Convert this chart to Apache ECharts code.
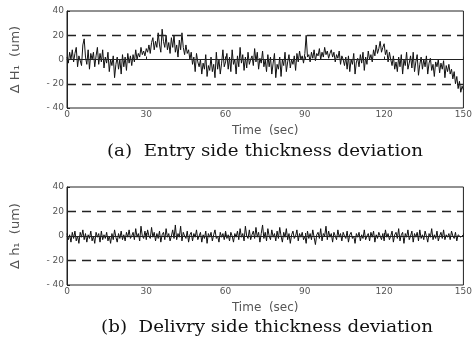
<!DOCTYPE html>
<html>
<head>
<meta charset="utf-8">
<script src="https://cdn.jsdelivr.net/npm/echarts@6/dist/echarts.min.js"></script>
<style>html,body{margin:0;padding:0;background:#fff}#c{width:475px;height:350px}</style>
</head>
<body>
<div id="c"></div>
<script>
// sample spacing (seconds)
const timeStep = 0.5;
const xTicks = [0, 30, 60, 90, 120, 150];
const yTicks = [-40, -20, 0, 20, 40];
const limitLines = [-20, 20];

// (a) Entry side thickness deviation, ΔH1 (um), every 0.5 s
const entryDev = [
  2, -3, 6, 0, 8, -2, 5, 10, -6, 3,
  4, -5, 12, 17, 2, -4, 8, -8, 5, 0,
  6, -6, 3, 10, -4, 5, -2, 8, -7, 2,
  -3, 6, -10, 0, -5, 3, -15, -4, 2, -8,
  0, -12, 4, -6, 2, -9, 5, -3, 3, -5,
  4, -2, 8, 0, 5, 2, 10, 4, 7, 3,
  9, 6, 12, 5, 14, 18, 8, 15, 10, 22,
  12, 6, 25, 15, 10, 20, 8, 14, 5, 18,
  10, 20, 6, 12, 2, 16, 8, 22, 10, 4,
  12, 5, 8, 0, 6, -4, 2, -10, 5, -2,
  -6, 0, -12, -3, -8, 4, -14, -5, -9, 2,
  -10, -4, -15, 6, -8, 0, -12, -3, 8, -6,
  -2, 5, -8, 2, -10, 8, -4, 0, -12, 3,
  -6, 10, -3, 4, -9, 2, -7, 6, -4, 0,
  3, -5, 9, -2, 6, -8, 1, -3, 7, -6,
  0, -10, 4, -6, 2, -12, -3, 5, -15, -4,
  -8, 2, -14, 0, -5, 6, -10, -2, 4, -7,
  0, -4, 3, -9, 5, -2, 7, 0, 3, -3,
  5, 20, 2, 4, -2, 6, 1, 8, -1, 5,
  3, 9, 0, 6, 2, 10, 4, 7, 1, 5,
  8, 2, 6, -2, 4, 1, 7, -4, 3, 0,
  -5, 2, -8, 3, -10, 0, -4, 5, -12, -2,
  1, -6, 4, -3, 6, -9, 2, -4, 7, 0,
  4, -2, 8, 3, 12, 5, 9, 15, 6, 10,
  13, 4, 8, -2, 6, 0, -5, 3, -8, -2,
  -10, 2, -6, 4, -12, 0, -5, 6, -8, -3,
  3, -7, 6, -10, -2, 4, -13, -4, 2, -8,
  0, -6, 3, -12, -3, 1, -9, -4, -14, -2,
  -6, 0, -11, -3, -8, -1, -15, -5, -10, -4,
  -12, -8, -16, -10, -20, -14, -24, -18, -27, -22, -25
];

// (b) Delivery side thickness deviation, Δh1 (um), every 0.5 s
const deliveryDev = [
  2, -3, 1, -5, 3, -2, 4, -4, 0, -6,
  3, -1, 5, -3, 2, -5, 1, -2, 4, -4,
  0, -6, 3, -1, 2, -5, 4, -3, 1, -2,
  3, -4, 0, -6, 2, -3, 5, -1, -5, 2,
  -2, 4, -3, 1, -4, 3, -1, 5, -2, 0,
  3, -3, 6, -1, 2, -4, 8, 0, -2, 4,
  -3, 5, 0, -2, 7, -1, 3, -4, 2, -2,
  4, -5, 1, 3, -3, 6, -1, 2, -4, 0,
  5, -2, 9, -3, 2, -1, 8, -4, 3, 0,
  -2, 4, -5, 1, 3, -4, 2, -1, 5, -3,
  0, 3, -5, 1, -2, 4, -6, 2, -1, 3,
  -4, 1, 5, -2, 0, -5, 3, -1, 2, -3,
  4, -2, 1, -4, 3, 0, -5, 2, -1, 4,
  -3, 6, -1, 2, -4, 8, 0, -2, 5, -3,
  1, 4, -2, 7, -1, 3, -5, 2, 9, -2,
  3, -4, 6, 0, -3, 5, -1, 2, -4, 4,
  -2, 7, 0, -5, 3, -1, 6, -3, 2, -6,
  1, 4, -2, 0, 5, -4, 2, -1, 3, -3,
  0, -6, 4, -2, 2, -3, 5, -1, -7, 1,
  3, -2, 6, -4, 2, 0, 8, -3, 4, -1,
  2, -5, 3, 0, -3, 5, -1, 2, -4, 3,
  0, -2, 4, -5, 1, 3, -2, 0, -6, 2,
  -1, 3, -4, 1, -2, 5, -3, 0, 2, -4,
  3, -1, 4, -5, 1, -2, 3, 0, -3, 2,
  -4, 5, -1, 2, -3, 0, 4, -5, 1, 3,
  -2, 6, -4, 1, 3, -6, 2, -1, 5, -3,
  0, 4, -5, 2, -1, 3, -4, 5, -2, 1,
  -3, 4, 0, -5, 2, -1, 6, -3, 1, -2,
  4, -4, 0, 3, -2, 5, -3, 1, -1, 2,
  -3, 4, 0, -2, 3, -4, 1, 2, -1, 0, 1
];

const yNames = ['\u0394 H\u2081  (um)', '\u0394 h\u2081  (um)'];
const xName = 'Time  (sec)';
const captions = ['(a)  Entry side thickness deviation', '(b)  Delivry side thickness deviation'];

const pairs = arr => arr.map((v, i) => [i * timeStep, v]);
const ink = '#222';
const grey = '#555';
const sans = 'DejaVu Sans';

function xAxis(gi) {
  return {
    type: 'value', gridIndex: gi, min: 0, max: 150, interval: 30,
    name: xName, nameLocation: 'middle', nameGap: 17,
    nameTextStyle: { color: grey, fontSize: 12, fontFamily: sans },
    axisLine: { show: true, lineStyle: { color: ink, width: 1 } },
    axisTick: { show: true, inside: true, length: 3, lineStyle: { color: ink } },
    axisLabel: { color: grey, fontSize: 9, fontFamily: sans, margin: 2 },
    splitLine: { show: false }
  };
}
function yAxis(gi) {
  return {
    type: 'value', gridIndex: gi, min: -40, max: 40, interval: 20,
    name: yNames[gi], nameLocation: 'middle', nameGap: 45, nameRotate: 90,
    nameTextStyle: { color: grey, fontSize: 13, fontFamily: sans },
    axisLine: { show: true, lineStyle: { color: ink, width: 1 } },
    axisTick: { show: true, inside: true, length: 3, lineStyle: { color: ink } },
    axisLabel: { color: grey, fontSize: 9, fontFamily: sans, margin: 3,
      formatter: v => v < 0 ? '- ' + Math.abs(v) : String(v) },
    splitLine: { show: false }
  };
}
function series(gi, data) {
  return {
    type: 'line', xAxisIndex: gi, yAxisIndex: gi, data: pairs(data),
    showSymbol: false, symbol: 'none', animation: false,
    lineStyle: { color: '#111', width: 1 },
    markLine: {
      silent: true, symbol: 'none', animation: false, label: { show: false },
      data: [
        { yAxis: 0, lineStyle: { type: 'solid', color: ink, width: 1 } },
        ...limitLines.map(v => ({ yAxis: v, lineStyle: { type: [9, 6], color: ink, width: 1.3 } }))
      ]
    }
  };
}

const capFont = '16px "DejaVu Serif", serif';
const chart = echarts.init(document.getElementById('c'), null, { renderer: 'canvas' });
chart.setOption({
  backgroundColor: '#fff',
  animation: false,
  grid: [
    { left: 67, top: 11, width: 400, height: 97, show: true, borderColor: ink, borderWidth: 1 },
    { left: 67, top: 187, width: 400, height: 98, show: true, borderColor: ink, borderWidth: 1 }
  ],
  xAxis: [xAxis(0), xAxis(1)],
  yAxis: [yAxis(0), yAxis(1)],
  series: [series(0, entryDev), series(1, deliveryDev)],
  graphic: [
    { type: 'text', x: 265, y: 152, scaleX: 1.14, style: { text: captions[0], fill: '#111',
      font: capFont, align: 'center', verticalAlign: 'middle' } },
    { type: 'text', x: 267, y: 328, scaleX: 1.14, style: { text: captions[1], fill: '#111',
      font: capFont, align: 'center', verticalAlign: 'middle' } }
  ]
});
</script>
</body>
</html>
